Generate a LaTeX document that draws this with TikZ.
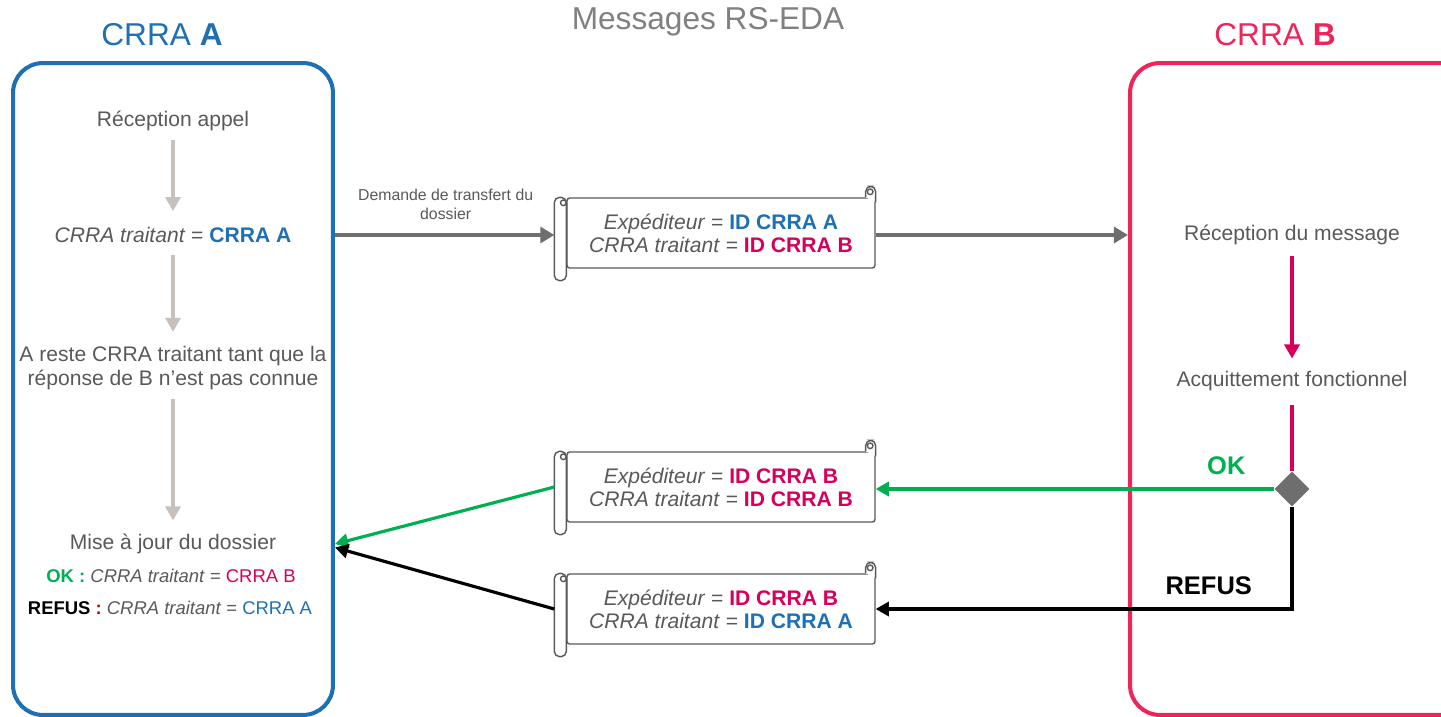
\documentclass[tikz,border=0pt]{standalone}
\usepackage{fontspec}
\setmainfont{Liberation Sans}
\usetikzlibrary{arrows.meta,positioning,shapes.geometric}

\definecolor{crraA}{RGB}{31,111,181}
\definecolor{crraB}{RGB}{238,37,88}
\definecolor{idB}{RGB}{214,0,90}
\definecolor{okgreen}{RGB}{0,176,80}
\definecolor{txtgray}{RGB}{89,89,89}
\definecolor{flowgray}{RGB}{200,192,186}
\definecolor{msggray}{RGB}{110,110,110}
\definecolor{refusred}{RGB}{192,0,0}

% rolled ends of a message scroll
\newcommand{\msgrolls}[1]{%
  \draw[rollline, rounded corners=3pt] ([xshift=-0.24cm]#1.north west) rectangle ([yshift=-0.24cm]#1.south west);
  \draw[rollline] ([xshift=-0.06cm,yshift=-0.11cm]#1.north west) circle (1.6pt);
  \draw[rollline, rounded corners=3pt] ([xshift=-0.2cm]#1.north east) -- ([xshift=-0.2cm,yshift=0.22cm]#1.north east)
    -- ([yshift=0.22cm]#1.north east) -- ([yshift=-0.1cm]#1.north east);
  \draw[rollline] ([xshift=-0.11cm,yshift=0.11cm]#1.north east) circle (1.6pt);
}

\begin{document}
\begin{tikzpicture}[x=0.02cm, y=-0.02cm,
    laneA/.style={draw=crraA, line width=2.3pt, rounded corners=17pt, minimum width=6.4cm, minimum height=13.04cm},
    laneB/.style={draw=crraB, line width=2.3pt, rounded corners=17pt, minimum width=7cm, minimum height=13.04cm},
    lanetitle/.style={font=\fontsize{18}{21}\selectfont},
    txt/.style={text=txtgray, font=\fontsize{12}{13.6}\selectfont, align=center, inner sep=0pt},
    note/.style={text=txtgray, font=\fontsize{10.5}{12}\selectfont, inner sep=0pt},
    msg/.style={draw=txtgray, line width=0.8pt, fill=white, rounded corners=1.5pt, minimum width=6.16cm, minimum height=1.4cm,
      inner sep=0pt, align=center, text=txtgray, font=\fontsize{12}{13}\selectfont},
    rollline/.style={draw=txtgray, line width=0.8pt, fill=white},
    flow/.style={draw=flowgray, line width=2pt, -{Triangle[length=8pt,width=8.5pt]}},
    send/.style={draw=msggray, line width=2pt, -{Triangle[length=8pt,width=9pt]}},
    ack/.style={draw=idB, line width=2pt},
    okline/.style={draw=okgreen, line width=1.8pt, -{Triangle[length=7.5pt,width=8pt]}},
    refusline/.style={draw=black, line width=1.8pt, -{Triangle[length=7.5pt,width=8pt]}}
  ]
    \useasboundingbox (0,0) rectangle (1441,717);

    % lanes
    \node[laneA] (boxA) at (173,389) {};
    \node[laneB] (boxB) at (1305,389) {};
    \node[lanetitle, text=crraA] (titleA) at (162,35) {CRRA \textbf{A}};
    \node[lanetitle, text=crraB] (titleB) at (1275,35) {CRRA \textbf{B}};
    \node[lanetitle, text=gray] (title) at (708,22) {Messages RS-EDA};

    % CRRA A
    \node[txt] (recv) at (173,121) {Réception appel};
    \node[txt] (ctA) at (173,235) {\textit{CRRA traitant} = \textbf{\color{crraA}CRRA A}};
    \node[txt] (reste) at (173,368) {A reste CRRA traitant tant que la\\réponse de B n’est pas connue};
    \node[txt] (maj) at (173,544) {Mise à jour du dossier};
    \node[note] (okA) at (171,576) {\textbf{\color{okgreen}OK :} \textit{CRRA traitant} = {\color{idB}CRRA B}};
    \node[note] (refA) at (170,608) {\textbf{\color{black}REFUS} \textbf{\color{refusred}:} \textit{CRRA traitant} = {\color{crraA}CRRA A}};

    \draw[flow, shorten <=5pt, shorten >=9pt] (recv) -- (ctA);
    \draw[flow, shorten <=7pt, shorten >=8pt] (ctA) -- (reste);
    \draw[flow, shorten <=5pt, shorten >=7.5pt] (reste) -- (maj);

    % messages
    \node[msg] (msg1) at (721,233) {\textit{Expéditeur} = \textbf{\color{crraA}ID CRRA A}\\\textit{CRRA traitant} = \textbf{\color{idB}ID CRRA B}};
    \msgrolls{msg1}
    \node[msg] (msg2) at (721,487) {\textit{Expéditeur} = \textbf{\color{idB}ID CRRA B}\\\textit{CRRA traitant} = \textbf{\color{idB}ID CRRA B}};
    \msgrolls{msg2}
    \node[msg] (msg3) at (721,609) {\textit{Expéditeur} = \textbf{\color{idB}ID CRRA B}\\\textit{CRRA traitant} = \textbf{\color{crraA}ID CRRA A}};
    \msgrolls{msg3}

    % CRRA B
    \node[txt] (recvB) at (1292,235) {Réception du message};
    \node[txt] (ackB) at (1292,381) {Acquittement fonctionnel};
    \node[diamond, fill=msggray, minimum size=0.7cm, inner sep=0pt] (dec) at (1292,489) {};

    \draw[ack, -{Triangle[length=8pt,width=8.5pt]}, shorten <=6pt, shorten >=7pt] (recvB) -- (ackB);
    \draw[ack, shorten <=8pt] (ackB) -- (dec);

    % exchanges
    \draw[send, shorten >=6.8pt] (ctA -| boxA.east) -- node[above=8pt, txt, font=\fontsize{9}{10.8}\selectfont, xshift=-0.1cm]{Demande de transfert du\\dossier} (ctA -| msg1.west);
    \draw[send] (ctA -| msg1.east) -- (ctA -| boxB.west);
    \draw[okline] (dec.west) -- node[pos=0.12, above=4pt, font=\fontsize{14.5}{17}\selectfont\bfseries, text=okgreen]{OK} (dec.west -| msg2.east);
    \draw[refusline] (dec.south) |- node[pos=0.6, above=4pt, font=\fontsize{14.5}{17}\selectfont\bfseries]{REFUS} (msg3.east);
    \draw[okline] ([xshift=-0.24cm]msg2.west) -- (maj -| boxA.east);
    \draw[refusline] ([xshift=-0.24cm]msg3.west) -- ([yshift=-2pt]maj -| boxA.east);
\end{tikzpicture}
\end{document}
